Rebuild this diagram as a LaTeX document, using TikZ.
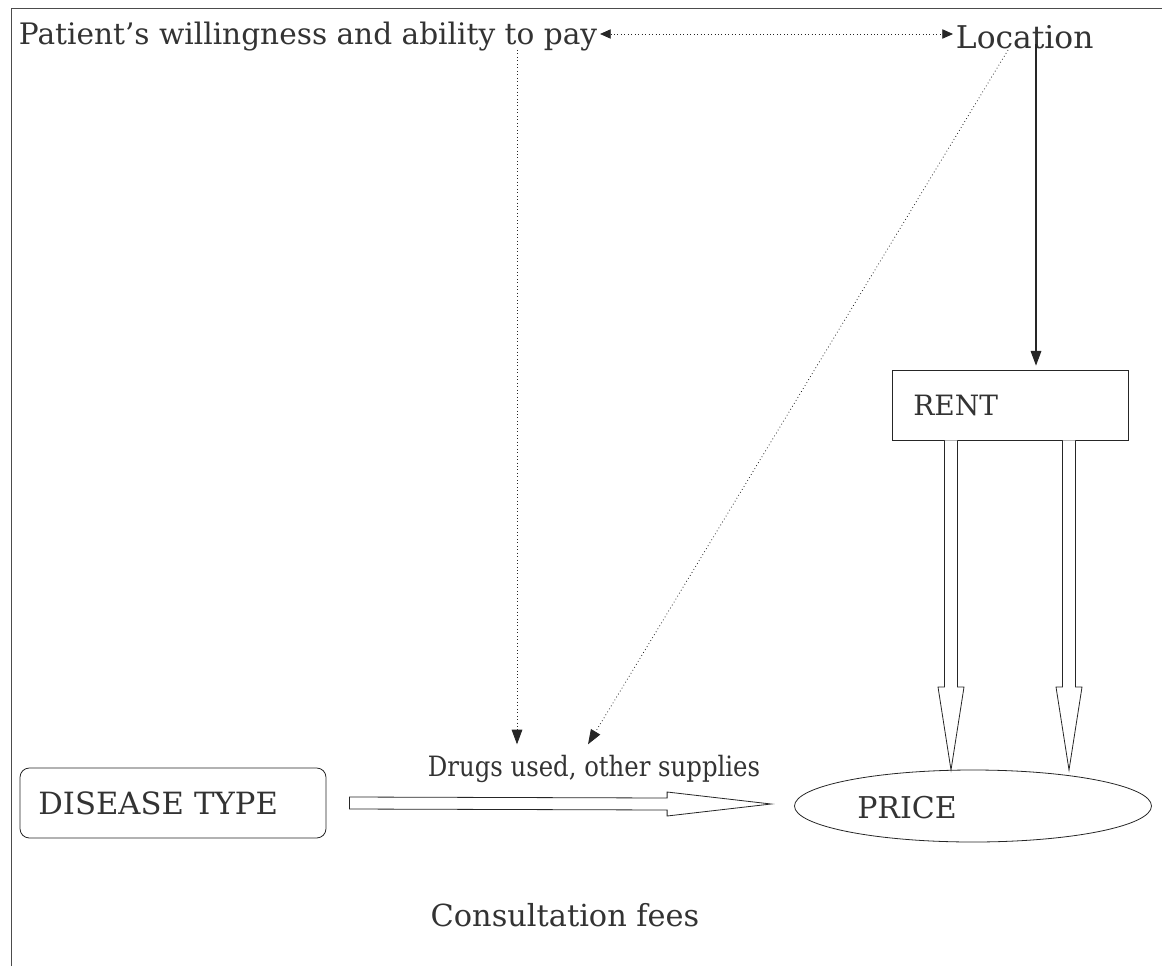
\documentclass[tikz,border=0pt]{standalone}
\usepackage{fontspec}
\usepackage{graphicx}
\setmainfont{DejaVu Serif}
\usetikzlibrary{arrows.meta,shapes.geometric,calc}
\newcommand{\fs}[1]{\fontsize{#1}{1.2\dimexpr#1pt\relax}\selectfont}
\begin{document}
\begin{tikzpicture}[x=0.75pt,y=-0.75pt,
  every node/.style={text=black!80},
  lbl/.style={inner sep=2pt},
  dotline/.style={draw=black!85, line width=0.6pt, dotted},
  tri/.style={-{Triangle[length=11pt,width=8pt]}},
  tribi/.style={{Triangle[length=8pt,width=7pt]}-{Triangle[length=8pt,width=7pt]}},
  hollow/.style={draw=black!85, line width=0.6pt, fill=white},
  framel/.style={draw=black!70, line width=0.7pt}]
\useasboundingbox (0,0) rectangle (1162,966);
% frame
\draw[framel] (11,966) -- (11,8) -- (1162,8);
% texts and nodes
\node[lbl, anchor=west, font=\fs{22.2}] (pay) at (16,37) {Patient’s willingness and ability to pay};
\node[lbl, anchor=west, font=\fs{23.5}] (loc) at (953,37) {Location};
\node[draw=black!85, line width=0.6pt, minimum width=177pt, minimum height=52.5pt,
      text width=145pt, inner xsep=16pt, align=left, font=\fs{21}] (rent) at (1010,405) {RENT};
\node[draw=black!85, line width=0.6pt, rounded corners=7pt, minimum width=229.5pt, minimum height=52.5pt,
      text width=202pt, inner xsep=13.5pt, align=left, font=\fs{23}] (dis) at (173,803) {DISEASE TYPE};
\node[lbl, font=\fs{21}] (drugs) at (594,769) {\scalebox{0.87}[1]{Drugs used, other supplies}};
\node[draw=black!85, line width=0.6pt, ellipse, minimum width=267.75pt, minimum height=54pt] (price) at (973,806) {};
\node[lbl, font=\fs{22.5}] (pricet) at (907,808) {PRICE};
\node[lbl, font=\fs{22.8}] (fees) at (565,915) {Consultation fees};
% coordinates
\coordinate (pv) at (517,50);
\coordinate (ld) at (1008,50);
\coordinate (ls) at (1036,44);
% dotted connectors
\draw[dotline, tribi] ($(pay.east)+(0,-3)$) -- ($(loc.west)+(0,-3)$);
\draw[dotline, tri] (pv) -- ($(pv |- drugs.north)+(0,-8)$);
\draw[dotline, tri] (ld) -- ($(drugs.north)+(-6,-8)$);
% solid connector
\draw[draw=black!85, line width=0.8pt, -{Triangle[length=11pt,width=8pt]}] (ls) -- ($(ls |- rent.north)+(0,-4)$);
% hollow block arrows
\coordinate (ha) at ($(dis.east)+(23,0)$);
\coordinate (hb) at ($(price.west)+(-23,-2)$);
\draw[hollow] ($(ha)+(0,-6)$) -- ($(hb)+(-104,-6)$) -- ($(hb)+(-104,-12)$) -- (hb)
  -- ($(hb)+(-104,12)$) -- ($(hb)+(-104,6)$) -- ($(ha)+(0,6)$) -- cycle;
\foreach \xx/\nm in {951/a,1069/b}{
  \coordinate (s\nm) at (\xx,0 |- rent.south);
  \coordinate (t\nm) at (\xx,770);
  \draw[hollow] ($(s\nm)+(-6.5,0)$) -- ($(t\nm)+(-6.5,-83)$) -- ($(t\nm)+(-13,-83)$) -- (t\nm)
    -- ($(t\nm)+(13,-83)$) -- ($(t\nm)+(6.5,-83)$) -- ($(s\nm)+(6.5,0)$);
}
\end{tikzpicture}
\end{document}
